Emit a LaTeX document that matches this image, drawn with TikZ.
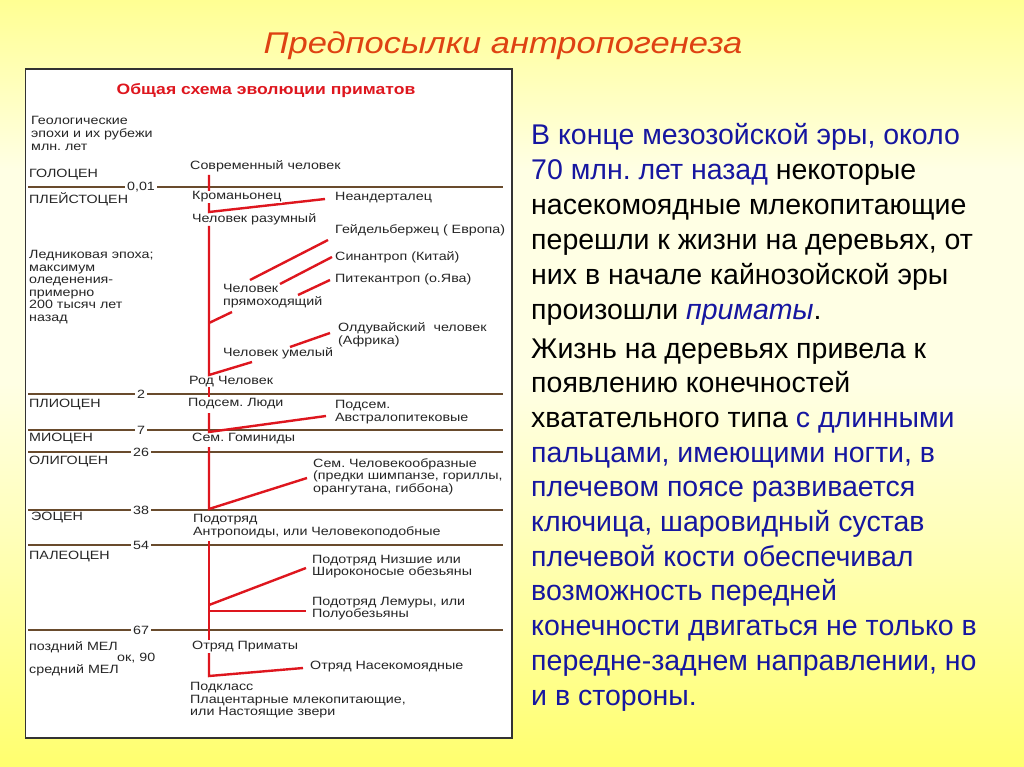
\documentclass[tikz,border=0pt]{standalone}
\usepackage{fontspec}
\setmainfont{Liberation Sans}
\newfontfamily\pf[FakeStretch=1.19]{Liberation Sans}
\newfontfamily\hf[FakeStretch=1.17]{Liberation Sans}
\newfontfamily\tf[FakeStretch=1.15]{Liberation Sans}
\frenchspacing
\definecolor{Yel}{RGB}{255,255,0}
\definecolor{Yel2}{RGB}{255,255,110}
\definecolor{Yel3}{RGB}{255,255,185}
\definecolor{Pale}{RGB}{255,255,228}
\definecolor{blueT}{RGB}{22,22,160}
\definecolor{titleC}{RGB}{222,66,18}
\definecolor{redL}{RGB}{222,22,30}
\definecolor{epochC}{RGB}{105,75,45}
\pgfdeclareverticalshading{bgshade}{100bp}{color(0bp)=(Yel); color(12bp)=(Yel); color(25bp)=(Yel2); color(40bp)=(Yel3); color(50bp)=(Pale); color(64bp)=(Pale); color(80bp)=(Yel2); color(93bp)=(Yel); color(100bp)=(Yel)}
\pgfdeclarelayer{back}
\pgfdeclarelayer{lines}
\pgfsetlayers{back,lines,main}
\tikzset{
  pt/.style={font=\pf\fontsize{12}{12.6}\selectfont, text=black!85, inner sep=0pt, anchor=west, align=left},
  onl/.style={pt, fill=white, inner sep=1pt},
  num/.style={font=\pf\fontsize{12}{12.6}\selectfont, text=black!85, inner sep=2pt},
  epoch/.style={draw=epochC, line width=1.5pt},
  rl/.style={draw=redL, line width=2.4pt},
  rt/.style={font=\fontsize{28.5}{34}\selectfont, anchor=base west, inner sep=0pt, text=black}
}
\begin{document}
\begin{tikzpicture}[x=1pt,y=-1pt]
\useasboundingbox (0,0) rectangle (1024,767);
\begin{pgfonlayer}{back}
\shade[shading=bgshade] (0,0) rectangle (1024,767);
\fill[white] (25.5,69) rectangle (512,738);
\draw[black!80, line width=1.3pt] (25.5,69) rectangle (512,738);
\end{pgfonlayer}

% title
\node[font=\tf\itshape\fontsize{30}{32}\selectfont, text=titleC, anchor=base, inner sep=0pt] (title) at (503,54) {Предпосылки антропогенеза};

% panel heading
\node[font=\hf\bfseries\fontsize{15}{16}\selectfont, text=redL, inner sep=0pt] (head) at (266,91) {Общая схема эволюции приматов};

% left labels
\node[pt] (geo) at (31,133.5) {Геологические\\эпохи и их рубежи\\млн. лет};
\node[pt] (holo) at (29,175) {ГОЛОЦЕН};
\node[pt] (pleist) at (29,199) {ПЛЕЙСТОЦЕН};
\node[pt] (ice) at (29,287) {Ледниковая эпоха;\\максимум\\оледенения-\\примерно\\200 тысяч лет\\назад};
\node[pt] (plio) at (29,405) {ПЛИОЦЕН};
\node[pt] (mio) at (29,439) {МИОЦЕН};
\node[pt] (oligo) at (29,462) {ОЛИГОЦЕН};
\node[pt] (eoc) at (31,518) {ЭОЦЕН};
\node[pt] (paleo) at (29,557) {ПАЛЕОЦЕН};
\node[pt] (latecr) at (29,647) {поздний МЕЛ};
\node[pt] (ok90) at (117,658) {ок, 90};
\node[pt] (midcr) at (29,670) {средний МЕЛ};

% epoch boundary lines
\foreach \nm/\yy/\lab in {a/187/{0,01}, b/394/2, c/430/7, d/452/26, e/510/38, f/545/54, g/630/67}{
  \coordinate (L\nm) at (28,\yy);
  \coordinate (R\nm) at (503,\yy);
  \node[num] (N\nm) at (141,\yy) {\lab};
  \begin{pgfonlayer}{lines}
  \draw[epoch] (L\nm) -- (N\nm) -- (R\nm);
  \end{pgfonlayer}
}

% tree labels
\node[pt] (modern) at (190,166) {Современный человек};
\node[onl] (cro) at (191,197) {Кроманьонец};
\node[pt] (nean) at (335,198) {Неандерталец};
\node[pt] (sap) at (192,219) {Человек разумный};
\node[pt] (heid) at (335,230) {Гейдельбержец ( Европа)};
\node[pt] (sin) at (335,257) {Синантроп (Китай)};
\node[pt] (pit) at (335,279) {Питекантроп (о.Ява)};
\node[pt] (erect) at (223,296) {Человек\\прямоходящий};
\node[pt] (oldu) at (338,335) {Олдувайский~ человек\\(Африка)};
\node[pt] (hab) at (223,353) {Человек умелый};
\node[pt] (homo) at (189,382) {Род Человек};
\node[pt] (homin) at (188,404) {Подсем. Люди};
\node[pt] (austr) at (335,412) {Подсем.\\Австралопитековые};
\node[pt] (hominid) at (192,439) {Сем. Гоминиды};
\node[pt] (apes) at (313,476.5) {Сем. Человекообразные\\(предки шимпанзе, гориллы,\\орангутана, гиббона)};
\node[pt] (anthro) at (193,526) {Подотряд\\Антропоиды, или Человекоподобные};
\node[pt] (platy) at (312,566.5) {Подотряд Низшие или\\Широконосые обезьяны};
\node[pt] (lemur) at (312,608.5) {Подотряд Лемуры, или\\Полуобезьяны};
\node[pt] (prim) at (192,647) {Отряд Приматы};
\node[pt] (insect) at (310,667) {Отряд Насекомоядные};
\node[pt] (placent) at (190,700.5) {Подкласс\\Плацентарные млекопитающие,\\или Настоящие звери};

% red tree coordinates
\coordinate (t0) at (209,175);
\coordinate (tk) at (209,212);
\coordinate (ts) at (209,226);
\coordinate (te) at (209,323);
\coordinate (th) at (209,375);
\coordinate (u1) at (209,387);
\coordinate (u2) at (209,397);
\coordinate (v1) at (209,413);
\coordinate (v2) at (209,432);
\coordinate (w1) at (209,447);
\coordinate (w2) at (209,509);
\coordinate (x1) at (209,541);
\coordinate (xp) at (209,605);
\coordinate (xl) at (209,611);
\coordinate (x2) at (209,640);
\coordinate (y1) at (209,653);
\coordinate (y2) at (209,676);
\coordinate (bnean) at (325,199);
\coordinate (bh1) at (250,280);
\coordinate (bh2) at (328,240);
\coordinate (bs1) at (280,284);
\coordinate (bs2) at (332,257);
\coordinate (bp1) at (298,295);
\coordinate (bp2) at (330,280);
\coordinate (berect) at (232,312);
\coordinate (bo1) at (290,347);
\coordinate (bo2) at (330,333);
\coordinate (bhab) at (252,362);
\coordinate (baus) at (326,416);
\coordinate (bapes) at (307,478);
\coordinate (bplat) at (306,568);
\coordinate (blem) at (306,611);
\coordinate (bins) at (303,668);

\begin{pgfonlayer}{lines}
\draw[rl] (t0) -- (tk) -- (bnean);
\draw[rl] (ts) -- (th) -- (bhab);
\draw[rl] (te) -- (berect);
\draw[rl] (bh1) -- (bh2);
\draw[rl] (bs1) -- (bs2);
\draw[rl] (bp1) -- (bp2);
\draw[rl] (bo1) -- (bo2);
\draw[rl] (u1) -- (u2);
\draw[rl] (v1) -- (v2) -- (baus);
\draw[rl] (w1) -- (w2) -- (bapes);
\draw[rl] (x1) -- (x2);
\draw[rl] (xp) -- (bplat);
\draw[rl] (xl) -- (blem);
\draw[rl] (y1) -- (y2) -- (bins);
\end{pgfonlayer}

% right text
\node[rt] (p1) at (531,145) {\textcolor{blueT}{В конце мезозойской эры, около}};
\node[rt] (p2) at (531,179.8) {\textcolor{blueT}{70 млн. лет назад} некоторые};
\node[rt] (p3) at (531,214.6) {насекомоядные млекопитающие};
\node[rt] (p4) at (531,249.4) {перешли к жизни на деревьях, от};
\node[rt] (p5) at (531,284.2) {них в начале кайнозойской эры};
\node[rt] (p6) at (531,319) {произошли \textcolor{blueT}{\itshape приматы}.};
\node[rt] (q1) at (531,358) {Жизнь на деревьях привела к};
\node[rt] (q2) at (531,392.7) {появлению конечностей};
\node[rt] (q3) at (531,427.4) {хватательного типа \textcolor{blueT}{с длинными}};
\node[rt, text=blueT] (q4) at (531,462.1) {пальцами, имеющими ногти, в};
\node[rt, text=blueT] (q5) at (531,496.8) {плечевом поясе развивается};
\node[rt, text=blueT] (q6) at (531,531.5) {ключица, шаровидный сустав};
\node[rt, text=blueT] (q7) at (531,566.2) {плечевой кости обеспечивал};
\node[rt, text=blueT] (q8) at (531,600.9) {возможность передней};
\node[rt, text=blueT] (q9) at (531,635.6) {конечности двигаться не только в};
\node[rt, text=blueT] (q10) at (531,670.3) {передне-заднем направлении, но};
\node[rt, text=blueT] (q11) at (531,705) {и в стороны.};
\end{tikzpicture}
\end{document}
